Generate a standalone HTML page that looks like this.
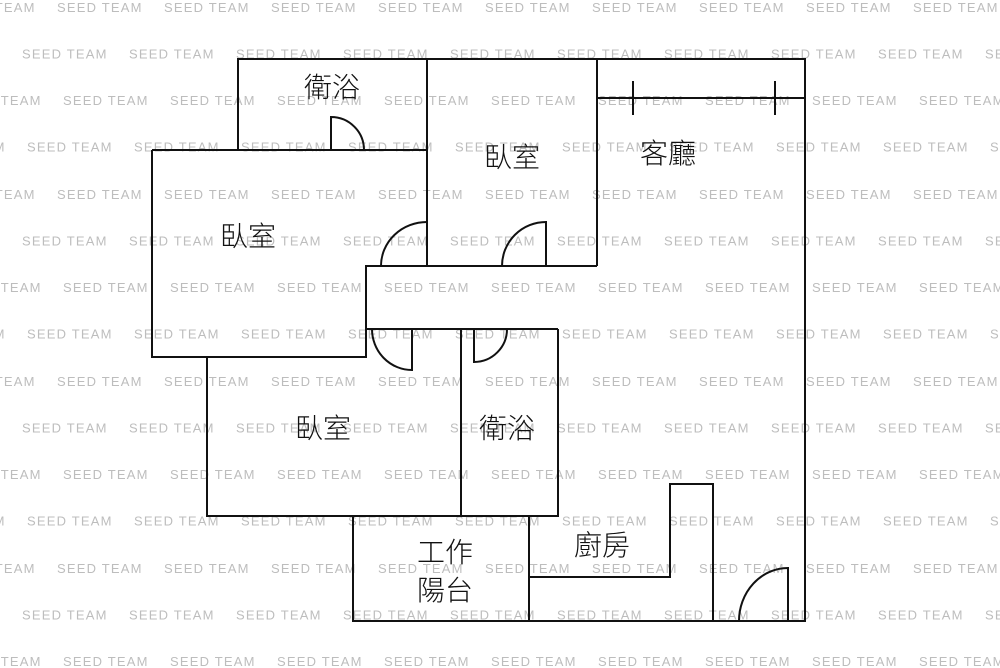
<!DOCTYPE html>
<html><head><meta charset="utf-8"><style>
html,body{margin:0;padding:0;background:#fff;}
svg{display:block;}
.w{font-family:"Liberation Sans",sans-serif;font-weight:normal;font-size:13px;letter-spacing:1.2px;fill:#bdbdbd;}
.l{font-family:"Liberation Sans","Noto Sans CJK TC",sans-serif;font-size:28px;font-weight:300;fill:#111;}
</style></head><body>
<svg width="1000" height="668" viewBox="0 0 1000 668" xmlns="http://www.w3.org/2000/svg">
<defs>
<pattern id="wm" x="0" y="0" width="107" height="187" patternUnits="userSpaceOnUse">
<g class="w">
<text x="57" y="12">SEED TEAM</text><text x="-50" y="12">SEED TEAM</text>
<text x="22" y="58.5">SEED TEAM</text><text x="-85" y="58.5">SEED TEAM</text>
<text x="63" y="105">SEED TEAM</text><text x="-44" y="105">SEED TEAM</text>
<text x="27" y="151.5">SEED TEAM</text><text x="-80" y="151.5">SEED TEAM</text>
</g>
</pattern>
</defs>
<rect x="0" y="0" width="1000" height="668" fill="url(#wm)"/>
<g fill="none" stroke="#111" stroke-width="2">
<polyline points="238,150 238,59 805,59 805,621 353,621 353,516"/>
<line x1="427" y1="59" x2="427" y2="266"/>
<line x1="597" y1="59" x2="597" y2="266"/>
<line x1="152" y1="150" x2="427" y2="150"/>
<polyline points="152,150 152,357 366,357 366,266 597,266"/>
<line x1="366" y1="329" x2="558" y2="329"/>
<polyline points="207,357 207,516 558,516 558,329"/>
<line x1="461" y1="329" x2="461" y2="516"/>
<line x1="529" y1="516" x2="529" y2="621"/>
<polyline points="529,577 670,577 670,484 713,484 713,621"/>
<line x1="597" y1="98" x2="805" y2="98"/>
<line x1="633" y1="81" x2="633" y2="115"/>
<line x1="775" y1="81" x2="775" y2="115"/>
<path d="M331,150 V117 A33,33 0 0 1 364,150"/>
<path d="M381,266 A46,44 0 0 1 427,222"/>
<path d="M546,266 V222 A44,44 0 0 0 502,266"/>
<path d="M412,329 V370 A40,41 0 0 1 372,329"/>
<path d="M474,329 V362 A33,33 0 0 0 507,329"/>
<path d="M788,621 V568 A49,53 0 0 0 739,621"/>
</g>
<g class="l">
<text x="304" y="97">衛浴</text>
<text x="484" y="167">臥室</text>
<text x="640" y="163">客廳</text>
<text x="220" y="246">臥室</text>
<text x="295" y="438">臥室</text>
<text x="479" y="438">衛浴</text>
<text x="574" y="555">廚房</text>
<text x="417" y="562">工作</text>
<text x="417" y="600">陽台</text>
</g>
</svg>
</body></html>
